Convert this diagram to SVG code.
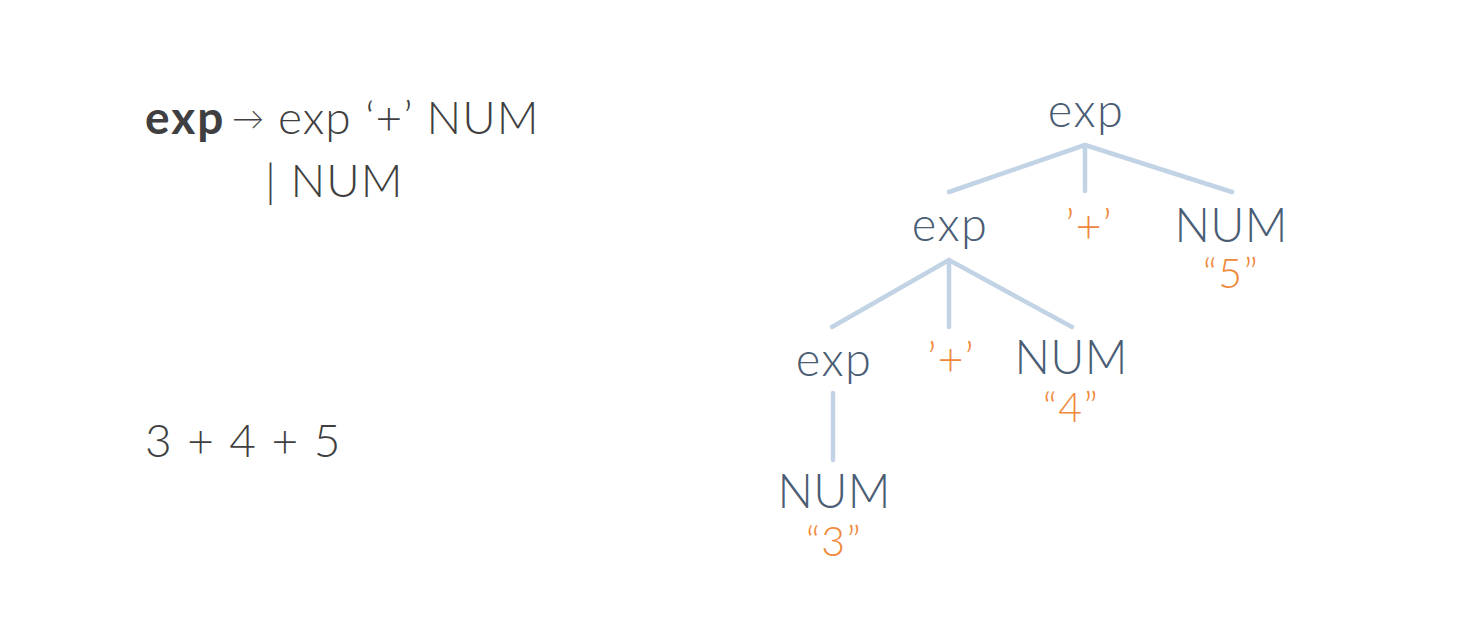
<svg xmlns="http://www.w3.org/2000/svg" width="1471" height="632" viewBox="0 0 1471 632">
<style>
text{font-family:Lato,"Open Sans","Liberation Sans",sans-serif;font-weight:300}
.g{fill:#3f3f41;font-size:46px;letter-spacing:1px}
.n{fill:#4a5d74;font-size:47px;letter-spacing:1.5px;text-anchor:middle}
.m{letter-spacing:0.3px}
.o{fill:#f0883a;font-size:45px;letter-spacing:1px;text-anchor:middle}
.d{font-size:41px;letter-spacing:1.5px}
.b{font-weight:700}
.e{stroke:#c2d3e5;stroke-width:4.5;stroke-linecap:round;fill:none}
</style>
<rect width="1471" height="632" fill="#ffffff"/>
<g id="grammar">
<text class="g" x="145" y="134"><tspan class="b" letter-spacing="2">exp</tspan><tspan font-size="32" x="232" dy="-4">→</tspan><tspan x="278" dy="4">exp ‘+’ NUM</tspan></text>
<text class="g" x="265" y="197" letter-spacing="0.5">| NUM</text>
</g>
<g id="input"><text class="g" x="145" y="457" word-spacing="1">3 + 4 + 5</text></g>
<g id="connectors">
<path class="e" d="M1085,145 L949,192 M1085,145 L1085,191 M1085,145 L1232,192"/>
<path class="e" d="M949,260 L832,327 M949,260 L949,327 M949,260 L1072,327"/>
<path class="e" d="M833,393 L833,460"/>
</g>
<g id="root"><text class="n" x="1086" y="127">exp</text></g>
<g id="exp2"><text class="n" x="950" y="241">exp</text></g>
<g id="plus1"><text class="o" x="1089" y="242">’+’</text></g>
<g id="num5"><text class="n m" x="1231" y="242">NUM</text><text class="o d" x="1231" y="288">“5”</text></g>
<g id="exp3"><text class="n" x="834" y="376">exp</text></g>
<g id="plus2"><text class="o" x="951" y="375">’+’</text></g>
<g id="num4"><text class="n m" x="1071" y="374">NUM</text><text class="o d" x="1071" y="422">“4”</text></g>
<g id="num3"><text class="n m" x="834" y="508">NUM</text><text class="o d" x="834" y="556">“3”</text></g>
</svg>
